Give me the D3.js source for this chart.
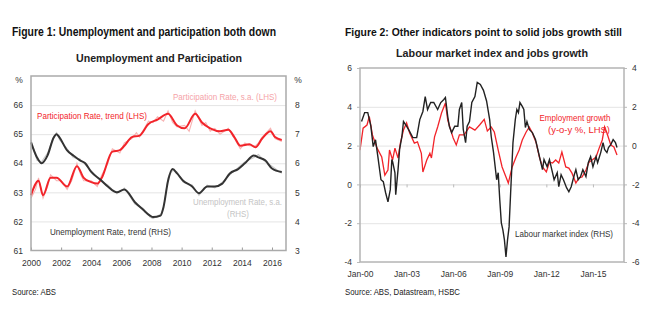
<!DOCTYPE html>
<html>
<head>
<meta charset="utf-8">
<script src="https://cdn.jsdelivr.net/npm/d3@7"></script>
<style>
body { margin: 0; background: #fff; }
svg { display: block; font-family: "Liberation Sans Narrow", "Arial Narrow", Arial, "Liberation Sans", sans-serif; }
</style>
</head>
<body>
<div id="chart"></div>
<script>
// ---- Figure 1 data: [year, value] ----
const partTrend = [[2000.0,62.9],[2000.5,63.4],[2000.8,62.9],[2001.3,63.5],[2001.7,63.5],[2002.4,63.2],[2003.05,63.9],[2003.5,63.5],[2004.0,63.35],[2004.4,63.3],[2004.7,63.5],[2005.4,64.4],[2005.9,64.45],[2006.2,64.6],[2006.7,64.9],[2007.2,64.95],[2007.8,65.35],[2008.4,65.5],[2009.1,65.7],[2009.7,65.3],[2010.2,65.2],[2010.9,65.7],[2011.35,65.4],[2011.9,65.2],[2012.55,65.1],[2013.1,65.15],[2013.5,64.9],[2013.9,64.6],[2014.5,64.65],[2014.9,64.55],[2015.35,64.85],[2015.9,65.1],[2016.2,64.9],[2016.65,64.8]];
const partSA = [[2000.0,62.8],[2000.3,63.1],[2000.5,63.5],[2000.8,62.8],[2001.1,63.2],[2001.3,63.6],[2001.7,63.4],[2002.0,63.4],[2002.4,63.1],[2002.7,63.4],[2003.05,64.0],[2003.3,63.6],[2003.5,63.4],[2004.0,63.4],[2004.4,63.2],[2004.7,63.6],[2005.1,64.0],[2005.4,64.5],[2005.9,64.35],[2006.2,64.7],[2006.7,64.85],[2007.0,65.05],[2007.2,64.9],[2007.8,65.45],[2008.1,65.4],[2008.4,65.6],[2008.8,65.45],[2009.1,65.8],[2009.4,65.4],[2009.7,65.25],[2010.2,65.3],[2010.5,65.1],[2010.9,65.8],[2011.35,65.3],[2011.6,65.4],[2011.9,65.1],[2012.2,65.2],[2012.55,65.0],[2013.1,65.2],[2013.5,64.85],[2013.9,64.5],[2014.2,64.7],[2014.5,64.6],[2014.9,64.6],[2015.1,64.7],[2015.35,64.9],[2015.9,65.2],[2016.2,64.85],[2016.65,64.75]];
const unempTrend = [[2000.0,6.72],[2000.4,6.2],[2000.7,6.0],[2001.1,6.27],[2001.5,6.88],[2001.7,7.0],[2001.9,6.88],[2002.4,6.44],[2002.8,6.27],[2003.25,6.1],[2003.6,6.0],[2004.0,5.7],[2004.6,5.44],[2005.1,5.2],[2005.7,5.0],[2006.2,5.1],[2006.9,4.66],[2007.45,4.4],[2007.9,4.2],[2008.1,4.15],[2008.6,4.2],[2008.8,4.5],[2009.1,5.4],[2009.4,5.8],[2009.7,5.65],[2010.1,5.4],[2010.7,5.2],[2011.15,4.97],[2011.7,5.2],[2012.2,5.2],[2012.7,5.3],[2013.2,5.65],[2013.75,5.8],[2014.2,6.0],[2014.8,6.27],[2015.1,6.2],[2015.55,6.1],[2016.0,5.82],[2016.65,5.7]];
const unempSA = [[2000.0,6.8],[2000.4,6.1],[2000.7,6.05],[2001.1,6.35],[2001.5,6.9],[2001.7,7.05],[2001.9,6.8],[2002.4,6.5],[2002.8,6.2],[2003.25,6.15],[2003.6,5.95],[2004.0,5.75],[2004.6,5.4],[2005.1,5.25],[2005.7,4.95],[2006.2,5.15],[2006.9,4.6],[2007.45,4.45],[2007.9,4.15],[2008.1,4.1],[2008.6,4.25],[2008.8,4.45],[2009.1,5.5],[2009.4,5.75],[2009.7,5.7],[2010.1,5.35],[2010.7,5.25],[2011.15,4.9],[2011.7,5.25],[2012.2,5.15],[2012.7,5.35],[2013.2,5.6],[2013.75,5.85],[2014.2,6.05],[2014.8,6.2],[2015.1,6.3],[2015.55,6.05],[2016.0,5.9],[2016.65,5.65]];
const fig1YearTicks = [2000,2002,2004,2006,2008,2010,2012,2014,2016];
const fig1LeftTicks = [61,62,63,64,65,66];
const fig1RightTicks = [3,4,5,6,7,8];

// ---- Figure 2 data: [year, value] ----
const empGrowth = [[2000.0,1.77],[2000.2,2.9],[2000.45,3.06],[2000.6,3.5],[2000.8,2.55],[2001.1,1.87],[2001.4,1.41],[2001.6,0.48],[2001.8,0.74],[2001.9,1.77],[2002.1,1.26],[2002.25,1.87],[2002.45,1.36],[2002.6,2.13],[2002.8,2.8],[2003.0,3.17],[2003.2,2.65],[2003.5,2.13],[2003.7,2.19],[2003.95,1.6],[2004.05,0.64],[2004.3,1.26],[2004.5,1.6],[2004.6,1.36],[2004.8,2.45],[2005.0,2.96],[2005.25,3.68],[2005.5,4.2],[2005.65,3.32],[2006.0,2.39],[2006.2,2.03],[2006.4,2.55],[2006.7,2.55],[2007.05,2.96],[2007.4,2.8],[2007.7,3.06],[2008.0,3.35],[2008.2,2.75],[2008.45,2.96],[2008.65,2.7],[2008.9,1.77],[2009.15,0.9],[2009.4,0.38],[2009.55,0.07],[2009.8,0.9],[2010.05,1.41],[2010.25,1.77],[2010.45,2.29],[2010.7,2.7],[2010.9,2.96],[2011.1,2.65],[2011.35,2.13],[2011.55,1.41],[2011.75,0.9],[2012.0,0.64],[2012.2,1.15],[2012.4,1.1],[2012.6,1.26],[2012.8,1.1],[2013.0,1.67],[2013.25,0.9],[2013.45,0.84],[2013.65,0.58],[2013.9,0.07],[2014.1,0.33],[2014.3,0.38],[2014.55,0.74],[2014.75,1.15],[2014.95,1.26],[2015.2,1.41],[2015.4,1.87],[2015.6,2.29],[2015.75,2.96],[2015.9,2.65],[2016.15,2.03],[2016.35,1.93],[2016.55,1.51]];
const labourIndex = [[2000.1,1.24],[2000.3,1.7],[2000.5,1.7],[2000.7,1.0],[2000.85,-0.05],[2001.0,0.3],[2001.15,-0.57],[2001.35,-1.76],[2001.5,-1.86],[2001.65,-2.43],[2001.8,-2.9],[2001.95,-2.27],[2002.05,-0.72],[2002.1,-0.83],[2002.25,-1.4],[2002.3,-2.53],[2002.45,-1.24],[2002.55,-0.2],[2002.7,0.47],[2002.8,1.24],[2003.0,1.0],[2003.2,0.72],[2003.4,0.41],[2003.65,0.41],[2003.85,1.34],[2004.05,1.76],[2004.2,2.53],[2004.35,1.86],[2004.55,2.22],[2004.75,2.22],[2005.0,1.86],[2005.2,2.22],[2005.4,2.38],[2005.5,2.48],[2005.65,1.5],[2005.75,1.0],[2005.9,0.67],[2006.1,1.0],[2006.3,1.0],[2006.4,1.86],[2006.55,2.22],[2006.65,0.83],[2006.8,0.15],[2006.9,1.0],[2007.05,1.24],[2007.2,2.22],[2007.4,2.53],[2007.55,3.26],[2007.75,3.15],[2007.95,2.85],[2008.15,2.3],[2008.35,1.34],[2008.45,0.47],[2008.6,-0.36],[2008.8,-1.76],[2008.9,-1.4],[2009.0,-2.79],[2009.1,-3.98],[2009.2,-4.34],[2009.3,-4.86],[2009.4,-5.74],[2009.5,-4.86],[2009.6,-4.19],[2009.7,-2.43],[2009.8,-0.72],[2009.85,0.15],[2010.0,1.34],[2010.1,1.86],[2010.2,1.7],[2010.3,2.22],[2010.45,2.02],[2010.55,1.86],[2010.65,0.93],[2010.75,1.24],[2010.9,0.83],[2011.1,0.67],[2011.3,0.31],[2011.45,-0.2],[2011.6,-0.72],[2011.75,-1.24],[2011.85,-0.72],[2012.05,-1.09],[2012.2,-0.72],[2012.35,-1.24],[2012.5,-1.76],[2012.7,-1.4],[2012.8,-2.12],[2012.95,-1.5],[2013.1,-1.76],[2013.3,-2.17],[2013.45,-2.38],[2013.6,-2.12],[2013.8,-1.5],[2013.9,-1.24],[2014.05,-1.76],[2014.2,-1.6],[2014.35,-1.24],[2014.55,-1.6],[2014.7,-0.88],[2014.85,-0.57],[2015.0,-1.09],[2015.2,-0.57],[2015.3,-0.88],[2015.5,-0.36],[2015.65,0.15],[2015.75,-0.2],[2015.9,-0.36],[2016.0,-0.1],[2016.15,0.05],[2016.3,0.31],[2016.45,0.15],[2016.55,-0.1]];
const fig2YearTicks = [2000,2003,2006,2009,2012,2015];
const fig2YearLabels = ["Jan-00","Jan-03","Jan-06","Jan-09","Jan-12","Jan-15"];
const fig2LeftTicks = [-4,-2,0,2,4,6];
const fig2RightTicks = [-6,-4,-2,0,2,4];

const svg = d3.select("#chart").append("svg")
	.attr("width", 656)
	.attr("height", 332);

// text helper, w squeezes text to the width
function txt(x, y, s, o) {
	const t = svg.append("text")
		.attr("x", x).attr("y", y)
		.attr("font-size", o.size || 9)
		.attr("fill", o.fill || "#222")
		.attr("text-anchor", o.anchor || "start")
		.text(s);
	if (o.bold) t.attr("font-weight", "bold");
	if (o.w) t.attr("textLength", o.w).attr("lengthAdjust", "spacingAndGlyphs");
	return t;
}

function styleAxis(g, size) {
	g.select(".domain").remove();
	g.selectAll("text").attr("font-size", size).attr("fill", "#333")
		.style("font-family", "Arial, 'Liberation Sans', sans-serif");
}

const plain = d => String(d); // plain hyphen minus, no decimals

// ================= Figure 1 =================
const x1 = d3.scaleLinear().domain([2000, 2016.93]).range([31, 286]);
const yL1 = d3.scaleLinear().domain([61, 67]).range([250.5, 76]);
const yR1 = d3.scaleLinear().domain([3, 9]).range([250.5, 76]);

txt(12, 36, "Figure 1: Unemployment and participation both down", {size: 12, bold: true, fill: "#111", w: 264});
txt(159, 62, "Unemployment and Participation", {size: 11, bold: true, fill: "#222", anchor: "middle", w: 166});

// gridlines
svg.append("g")
	.attr("transform", "translate(31,0)")
	.call(d3.axisLeft(yL1).tickValues([62,63,64,65,66]).tickSize(-(286 - 31)).tickFormat(""))
	.call(g => g.select(".domain").remove())
	.selectAll("line").attr("stroke", "#e4e4e4").attr("stroke-width", 1);

// x ticks (inward)
svg.append("g")
	.attr("transform", "translate(0,250.5)")
	.call(d3.axisBottom(x1).tickValues(fig1YearTicks).tickSize(-3).tickFormat(""))
	.call(g => g.select(".domain").remove())
	.selectAll("line").attr("stroke", "#999");

// x labels
svg.append("g")
	.attr("transform", "translate(0,250.5)")
	.call(d3.axisBottom(x1).tickValues(fig1YearTicks).tickSize(0).tickPadding(9.5).tickFormat(plain))
	.call(g => styleAxis(g, 8.5));

// y labels
svg.append("g")
	.attr("transform", "translate(31,0)")
	.call(d3.axisLeft(yL1).tickValues(fig1LeftTicks).tickSize(0).tickPadding(8).tickFormat(plain))
	.call(g => styleAxis(g, 8.5));
svg.append("g")
	.attr("transform", "translate(286,0)")
	.call(d3.axisRight(yR1).tickValues(fig1RightTicks).tickSize(0).tickPadding(9).tickFormat(plain))
	.call(g => styleAxis(g, 8.5));
txt(19, 83, "%", {size: 8.5, fill: "#333", anchor: "middle"});
txt(298, 83, "%", {size: 8.5, fill: "#333", anchor: "middle"});

const line1L = d3.line().x(d => x1(d[0])).y(d => yL1(d[1]));
const line1R = d3.line().x(d => x1(d[0])).y(d => yR1(d[1]));
const smooth1L = d3.line().curve(d3.curveMonotoneX).x(d => x1(d[0])).y(d => yL1(d[1]));
const smooth1R = d3.line().curve(d3.curveMonotoneX).x(d => x1(d[0])).y(d => yR1(d[1]));

svg.append("path").datum(partSA).attr("d", line1L)
	.attr("fill", "none").attr("stroke", "#f7b3b3").attr("stroke-width", 1.1);
svg.append("path").datum(unempSA).attr("d", line1R)
	.attr("fill", "none").attr("stroke", "#c8c8c8").attr("stroke-width", 1.1);
svg.append("path").datum(partTrend).attr("d", smooth1L)
	.attr("fill", "none").attr("stroke", "#f2242a").attr("stroke-width", 2);
svg.append("path").datum(unempTrend).attr("d", smooth1R)
	.attr("fill", "none").attr("stroke", "#333").attr("stroke-width", 2);

// box
svg.append("rect")
	.attr("x", 31).attr("y", 76).attr("width", 286 - 31).attr("height", 250.5 - 76)
	.attr("fill", "none").attr("stroke", "#aaa").attr("stroke-width", 1.5);

txt(277, 100, "Participation Rate, s.a. (LHS)", {size: 9, fill: "#f5a3a8", anchor: "end", w: 104});
txt(37, 119, "Participation Rate, trend (LHS)", {size: 9, fill: "#f2242a", w: 110});
txt(282, 205, "Unemployment Rate, s.a.", {size: 9, fill: "#c4c4c4", anchor: "end", w: 89});
txt(238, 217, "(RHS)", {size: 9, fill: "#c4c4c4", anchor: "middle", w: 22});
txt(50, 235, "Unemployment Rate, trend (RHS)", {size: 9, fill: "#333", w: 121});
txt(12, 295, "Source: ABS", {size: 9, fill: "#222", w: 44});

// ================= Figure 2 =================
const x2 = d3.scaleLinear().domain([2000, 2017]).range([360, 624]);
const yL2 = d3.scaleLinear().domain([-4, 6]).range([262, 68]);
const yR2 = d3.scaleLinear().domain([-6, 4]).range([262, 68]);

txt(345, 36, "Figure 2: Other indicators point to solid jobs growth still", {size: 11.5, bold: true, fill: "#111", w: 277});
txt(492, 57, "Labour market index and jobs growth", {size: 11, bold: true, fill: "#222", anchor: "middle", w: 192});

svg.append("g")
	.attr("transform", "translate(360,0)")
	.call(d3.axisLeft(yL2).tickValues([-2, 2, 4]).tickSize(-(624 - 360)).tickFormat(""))
	.call(g => g.select(".domain").remove())
	.selectAll("line").attr("stroke", "#e4e4e4").attr("stroke-width", 1);

// zero line with ticks
svg.append("g")
	.attr("transform", "translate(0," + yL2(0) + ")")
	.call(d3.axisBottom(x2).tickValues(fig2YearTicks).tickSize(3).tickFormat(""))
	.call(g => g.select(".domain").attr("stroke", "#d4d4d4"))
	.selectAll("line").attr("stroke", "#bbb");

svg.append("g")
	.attr("transform", "translate(0,262)")
	.call(d3.axisBottom(x2).tickValues(fig2YearTicks).tickSize(0).tickPadding(9)
		.tickFormat((d, i) => fig2YearLabels[i]))
	.call(g => styleAxis(g, 8.5));

svg.append("g")
	.attr("transform", "translate(360,0)")
	.call(d3.axisLeft(yL2).tickValues(fig2LeftTicks).tickSize(3).tickPadding(5).tickFormat(plain))
	.call(g => styleAxis(g, 8.5))
	.selectAll("line").attr("stroke", "#bbb");
svg.append("g")
	.attr("transform", "translate(624,0)")
	.call(d3.axisRight(yR2).tickValues(fig2RightTicks).tickSize(3).tickPadding(5).tickFormat(plain))
	.call(g => styleAxis(g, 8.5))
	.selectAll("line").attr("stroke", "#bbb");

svg.append("path").datum(empGrowth)
	.attr("d", d3.line().x(d => x2(d[0])).y(d => yL2(d[1])))
	.attr("fill", "none").attr("stroke", "#f2242a").attr("stroke-width", 1.3);
svg.append("path").datum(labourIndex)
	.attr("d", d3.line().x(d => x2(d[0])).y(d => yR2(d[1])))
	.attr("fill", "none").attr("stroke", "#222").attr("stroke-width", 1.4);

svg.append("rect")
	.attr("x", 360).attr("y", 68).attr("width", 624 - 360).attr("height", 262 - 68)
	.attr("fill", "none").attr("stroke", "#b4b4b4").attr("stroke-width", 1.5);

txt(575, 121, "Employment growth", {size: 9, fill: "#f2242a", anchor: "middle", w: 71});
txt(579, 133, "(y-o-y %, LHS)", {size: 9, fill: "#f2242a", anchor: "middle", w: 62});
txt(515, 237, "Labour market index (RHS)", {size: 9, fill: "#333", w: 98});
txt(345, 295, "Source: ABS, Datastream, HSBC", {size: 9, fill: "#222", w: 115});
</script>
</body>
</html>
